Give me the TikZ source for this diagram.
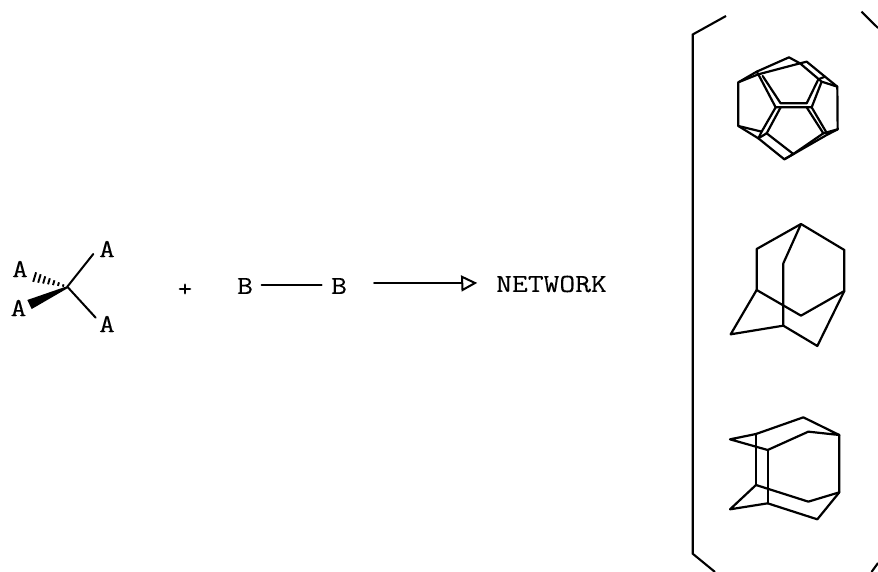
\documentclass[tikz,border=0pt]{standalone}
\usepackage{fontspec}
\setmonofont[FakeStretch=1.18,FakeBold=0.25]{Latin Modern Mono}
\usetikzlibrary{calc}
\tikzset{
  lbl/.style={font=\ttfamily\fontsize{26}{26}\selectfont,inner sep=0pt},
  bond/.style={line width=2pt,line join=round,line cap=round},
  cage/.style={line width=2.2pt,line join=round,line cap=round},
  brk/.style={line width=2.1pt,line join=miter},
  third/.style={x=0.3333pt,y=-0.3333pt}
}
\begin{document}
\begin{tikzpicture}[x=1pt,y=-1pt]
\useasboundingbox[fill=white] (0,0) rectangle (878,572);
% labels
\node[lbl] (a1) at (107,249) {A};
\node[lbl] (a2) at (20,269) {A};
\node[lbl] (a3) at (18.5,308) {A};
\node[lbl] (a4) at (107,324) {A};
\node[lbl,font=\ttfamily\fontsize{24}{24}\selectfont] (plus) at (185,290) {+};
\node[lbl] (b1) at (245,286) {B};
\node[lbl] (b2) at (339,286) {B};
\node[lbl,anchor=west] (net) at (496,284) {NETWORK};
\coordinate (c) at (67.3,286.7);
\coordinate (ar1) at (374,283.3);
\coordinate (ar2) at (462,283.3);
% stereocentre
\draw[bond] (c) -- (93.3,254) coordinate (e1);
\draw[bond] (c) -- (95.7,317.7) coordinate (e4);
\fill (67.8,286) -- (27.3,300) -- (31.7,309) -- (68,288) -- cycle;
\foreach \t/\h in {0.12/1.2,0.26/1.8,0.40/2.4,0.54/3,0.68/3.6,0.82/4.2,0.96/4.8}{
  \draw[line width=1.9pt] ($(c)!\t!(33.3,276.7)+(0.3*\h,-\h)$) -- ($(c)!\t!(33.3,276.7)+(-0.3*\h,\h)$);
}
% B-B and arrow
\draw[bond] (261.7,285) coordinate (b1e) -- (321.7,285) coordinate (b2w);
\draw[bond] (ar1) -- (ar2);
\draw[bond,line join=miter] (ar2) ++(0,-6.5) -- (475,283) -- (462.5,290) -- cycle;
% brackets
\draw[brk] (726,16) -- (692.7,34.5) -- (692.7,553.7) -- (715,572);
\draw[brk] (861.5,11.7) -- (878,28);
\draw[brk] (871.5,572) -- (878,563);
% dodecahedron
\begin{scope}[shift={(690,50)},third]
\draw[cage] (145,97) -- (145,228) -- (205,265) -- (283,328) -- (410,255) -- (443,238) -- (442,110) -- (405,80) -- (350,35) -- (330,40) -- (297,22) -- (200,65) -- cycle;
\draw[cage] (145,97) -- (205,73) -- (330,40) -- (395,95) -- (442,110);
\draw[cage] (200,65) -- (205,73);
\draw[cage] (218,78) -- (272,160) -- (350,160) -- (385,88);
\draw[cage] (205,73) -- (257,172) -- (365,172) -- (395,95);
\draw[cage] (257,172) -- (215,245) -- (205,265);
\draw[cage] (272,172) -- (230,250) -- (310,312) -- (400,250) -- (350,172);
\draw[cage] (365,172) -- (412,252);
\draw[cage] (145,228) -- (215,245);
\draw[cage] (205,265) -- (230,250);
\draw[cage] (400,250) -- (443,238);
\draw[cage] (283,328) -- (310,312);
\draw[cage] (405,80) -- (385,88);
\end{scope}
% adamantane
\begin{scope}[shift={(700,210)},third]
\draw[cage] (303,42) -- (170,117) -- (170,240) -- (303,317) -- (433,243) -- (433,120) -- cycle;
\draw[cage] (303,42) -- (250,160) -- (250,347);
\draw[cage] (170,240) -- (92,373) -- (250,347) -- (352,408) -- (433,243);
\end{scope}
% flattened adamantane
\begin{scope}[shift={(700,400)},third]
\draw[cage] (90,118) -- (168,102) -- (310,52) -- (418,105) -- (325,95) -- (203,150) -- cycle;
\draw[cage] (168,102) -- (168,255);
\draw[cage] (203,150) -- (203,310);
\draw[cage] (168,255) -- (90,328) -- (203,310) -- (352,358) -- (418,277);
\draw[cage] (168,255) -- (325,305) -- (418,277) -- (418,105);
\end{scope}
\end{tikzpicture}
\end{document}
